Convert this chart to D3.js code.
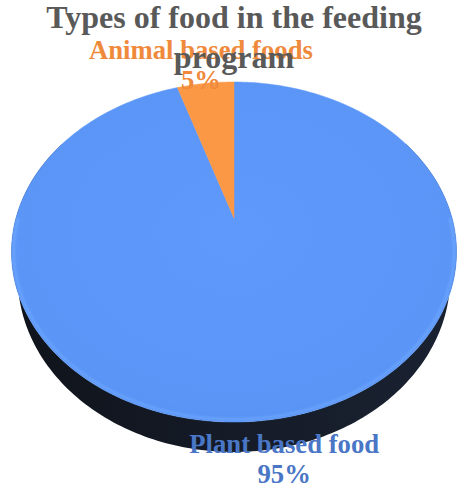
<!DOCTYPE html>
<html>
<head>
<meta charset="utf-8">
<script src="https://cdn.jsdelivr.net/npm/d3@7"></script>
<style>
html,body{margin:0;padding:0;background:#fff;}
svg{display:block;}
</style>
</head>
<body>
<svg id="chart" width="457" height="484"></svg>
<script>
// ---- data ----
const categories = ["Plant based food", "Animal based foods"];
const values = [95, 5];
const percentLabels = ["95%", "5%"];
const titleLines = ["Types of food in the feeding", "program"];
const sliceColors = ["#5b96f7", "#fb9845"];
const labelColors = ["#4a76c6", "#ef8a3c"];

const W = 457, H = 484;
const svg = d3.select("#chart");
const defs = svg.append("defs");

// 3D perspective projection of the pie disk
const cx = 234, cy = 218, A = 218, B = 163.2, K = 0.2, depth = 24, shrink = 0.972;
function proj(angle, r) {
  const u = r * Math.sin(angle), v = r * Math.cos(angle);
  const w = 1 + K * v;
  return [cx + A * u / w, cy - B * v / w];
}
function projBottom(angle) {
  const v = Math.cos(angle);
  const w = 1 + K * v;
  const [x, y] = proj(angle, 1);
  return [cx + (x - cx) * shrink, y + depth / w];
}

const pie = d3.pie().sort(null).value(d => d)(values);
const line = d3.line();
const N = 360;

// side gradient
const sg = defs.append("linearGradient").attr("id", "sideG")
  .attr("x1", "0").attr("x2", "1").attr("y1", "0").attr("y2", "0");
sg.append("stop").attr("offset", "0").attr("stop-color", "#0f131b");
sg.append("stop").attr("offset", "0.5").attr("stop-color", "#151b27");
sg.append("stop").attr("offset", "1").attr("stop-color", "#1a2232");

// top gradient
const tg = defs.append("radialGradient").attr("id", "topG")
  .attr("cx", "0.5").attr("cy", "0.45").attr("r", "0.6");
tg.append("stop").attr("offset", "0").attr("stop-color", "#5e99fb");
tg.append("stop").attr("offset", "0.85").attr("stop-color", "#5b96f7");
tg.append("stop").attr("offset", "1").attr("stop-color", "#5690f0");

const blur = defs.append("filter").attr("id", "soft").attr("x", "-5%").attr("y", "-5%").attr("width", "110%").attr("height", "110%");
blur.append("feGaussianBlur").attr("stdDeviation", "1.2");

// side: front arc of top rim + front arc of bottom rim
const a0 = 60 * Math.PI / 180, a1 = 300 * Math.PI / 180;
const topArc = d3.range(0, 241).map(i => proj(a0 + (a1 - a0) * i / 240, 1));
const botArc = d3.range(240, -1, -1).map(i => projBottom(a0 + (a1 - a0) * i / 240));
svg.append("path").attr("d", line(topArc.concat(botArc)) + "Z").attr("fill", "url(#sideG)");

// top faces
const topG = svg.append("g");
pie.forEach((d, i) => {
  const n = Math.max(2, Math.ceil((d.endAngle - d.startAngle) / (2 * Math.PI) * N));
  const pts = [proj(0, 0)];
  for (let j = 0; j <= n; j++) pts.push(proj(d.startAngle + (d.endAngle - d.startAngle) * j / n, 1));
  topG.append("path").attr("d", line(pts) + "Z")
    .attr("fill", i === 0 ? "url(#topG)" : sliceColors[i])
    .attr("stroke", sliceColors[i]).attr("stroke-width", 0.5);
});
// soft rim highlight on the front edge
const rimPts = d3.range(90, 271).map(a => proj(a * Math.PI / 180, 0.99));
topG.append("path").attr("d", line(rimPts)).attr("fill", "none")
  .attr("stroke", "#6fa8ff").attr("stroke-width", 2.5).attr("filter", "url(#soft)").attr("opacity", 0.8);

// data labels
const fs = 26.7, lh = 30;
const labG = svg.append("g");
pie.forEach((d, i) => {
  const mid = (d.startAngle + d.endAngle) / 2;
  const back = Math.cos(mid) > 0;
  const [lx, ly] = proj(mid, back ? 1.2 : 1.14);
  const t = labG.append("text")
    .attr("x", lx).attr("y", ly - lh / 2 + fs * 0.33 + 4)
    .attr("text-anchor", "middle")
    .attr("font-family", "'Liberation Serif', 'Times New Roman', serif")
    .attr("font-weight", "bold").attr("font-size", fs)
    .attr("fill", labelColors[i]);
  t.append("tspan").attr("x", lx).attr("dy", 0).text(categories[i]);
  t.append("tspan").attr("x", lx).attr("dy", lh).text(percentLabels[i]);
});

// title
const title = svg.append("text")
  .attr("x", 234).attr("y", 28)
  .attr("text-anchor", "middle")
  .attr("font-family", "'Liberation Serif', 'Times New Roman', serif")
  .attr("font-weight", "bold").attr("font-size", 32)
  .attr("fill", "#595959");
titleLines.forEach((t, i) => title.append("tspan").attr("x", 234).attr("dy", i === 0 ? 0 : 40).text(t));
</script>
</body>
</html>
